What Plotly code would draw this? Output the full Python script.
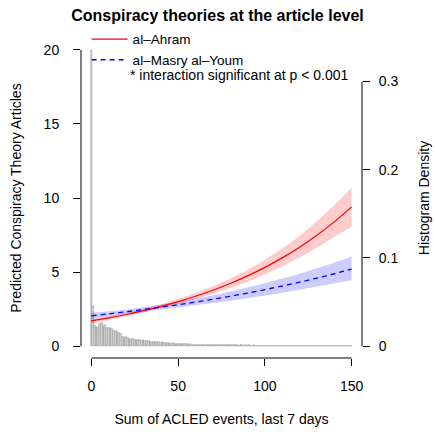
import plotly.graph_objects as go

# ---- data ----
x_grid = [0, 10, 20, 30, 40, 50, 60, 70, 80, 90, 100, 110, 120, 130, 140, 150]

ahram_fit = [1.70, 1.905, 2.135, 2.393, 2.682, 3.006, 3.369, 3.776, 4.232, 4.743,
             5.316, 5.958, 6.678, 7.485, 8.389, 9.40]
ahram_lo = [1.55, 1.77, 2.02, 2.27, 2.55, 2.84, 3.17, 3.53, 3.92, 4.36,
            4.84, 5.38, 5.98, 6.65, 7.38, 8.05]
ahram_hi = [1.86, 2.04, 2.26, 2.52, 2.82, 3.18, 3.58, 4.04, 4.57, 5.16,
            5.84, 6.60, 7.46, 8.43, 9.53, 10.70]

masry_fit = [2.05, 2.181, 2.321, 2.470, 2.628, 2.796, 2.975, 3.166, 3.368, 3.584,
             3.813, 4.057, 4.317, 4.593, 4.887, 5.20]
masry_lo = [1.87, 2.02, 2.18, 2.33, 2.47, 2.61, 2.76, 2.91, 3.07, 3.24,
            3.42, 3.61, 3.81, 4.02, 4.24, 4.45]
masry_hi = [2.25, 2.35, 2.47, 2.62, 2.79, 2.99, 3.21, 3.44, 3.69, 3.96,
            4.25, 4.56, 4.89, 5.25, 5.63, 6.05]

hist_bins = list(range(0, 151))
hist_density = [
    0.336, 0.045, 0.0227, 0.0216, 0.0205, 0.0250, 0.0260, 0.0216, 0.0239, 0.0205,
    0.0205, 0.0205, 0.0193, 0.0170, 0.0170, 0.0159, 0.0148, 0.0136,
    0.0105, 0.0095, 0.0100, 0.0090, 0.0085, 0.0080, 0.0080, 0.0070, 0.0075, 0.0068, 0.0065, 0.0060,
    0.0065, 0.0058, 0.0055, 0.0060, 0.0052, 0.0050, 0.0048, 0.0045, 0.0047, 0.0042,
    0.0040, 0.0042, 0.0038, 0.0035, 0.0036, 0.0033, 0.0030, 0.0032, 0.0028, 0.0027,
    0.0025, 0.0027, 0.0023, 0.0022, 0.0024, 0.0020, 0.0019, 0.0021, 0.0018, 0.0017,
    0.0018, 0.0016, 0.0015, 0.0017, 0.0014, 0.0015, 0.0013, 0.0014, 0.0012, 0.0013,
    0.0012, 0.0011, 0.0013, 0.0010, 0.0011, 0.0010, 0.0012, 0.0009, 0.0010, 0.0009,
    0.0010, 0.0008, 0.0009, 0.0008, 0.0010, 0.0007, 0.0008, 0.0009, 0.0007, 0.0008,
    0.0007, 0.0008, 0.0006, 0.0007, 0.0008, 0.0006, 0.0007, 0.0006, 0.0005, 0.0006,
    0.0006, 0.0005, 0.0006, 0.0005, 0.0006, 0.0004, 0.0005, 0.0005, 0.0004, 0.0005,
    0.0004, 0.0005, 0.0004, 0.0004, 0.0005, 0.0003, 0.0004, 0.0004, 0.0003, 0.0004,
    0.0003, 0.0004, 0.0003, 0.0003, 0.0004, 0.0003, 0.0003, 0.0002, 0.0003, 0.0003,
    0.0003, 0.0002, 0.0003, 0.0002, 0.0003, 0.0002, 0.0002, 0.0003, 0.0002, 0.0002,
    0.0002, 0.0002, 0.0002, 0.0001, 0.0002, 0.0002, 0.0001, 0.0002, 0.0001, 0.0002, 0.0002,
]

left_ticks = [0, 5, 10, 15, 20]
right_ticks = [0, 0.1, 0.2, 0.3]
right_tick_text = ["0", "0.1", "0.2", "0.3"]
x_ticks = [0, 50, 100, 150]

FONT = "Liberation Sans, Arial, sans-serif"

fig = go.Figure()

# histogram (main y axis = right side density)
fig.add_trace(go.Bar(
    x=hist_bins, y=hist_density, width=1,
    marker=dict(color="#d8d8d8", line=dict(color="#8f8f8f", width=0.5)),
    showlegend=False, hoverinfo="skip", xaxis="x", yaxis="y",
))

# confidence bands (overlay axis = left side)
fig.add_trace(go.Scatter(x=x_grid, y=ahram_hi, mode="lines", line=dict(width=0, shape="spline"),
                         showlegend=False, hoverinfo="skip", yaxis="y2"))
fig.add_trace(go.Scatter(x=x_grid, y=ahram_lo, mode="lines", line=dict(width=0, shape="spline"),
                         fill="tonexty", fillcolor="rgba(255,0,0,0.2)",
                         showlegend=False, hoverinfo="skip", yaxis="y2"))
fig.add_trace(go.Scatter(x=x_grid, y=masry_hi, mode="lines", line=dict(width=0, shape="spline"),
                         showlegend=False, hoverinfo="skip", yaxis="y2"))
fig.add_trace(go.Scatter(x=x_grid, y=masry_lo, mode="lines", line=dict(width=0, shape="spline"),
                         fill="tonexty", fillcolor="rgba(0,0,255,0.2)",
                         showlegend=False, hoverinfo="skip", yaxis="y2"))

# fitted lines
fig.add_trace(go.Scatter(x=x_grid, y=ahram_fit, mode="lines", name="al\u2013Ahram",
                         line=dict(color="red", width=1.2, shape="spline"), yaxis="y2"))
fig.add_trace(go.Scatter(x=x_grid, y=masry_fit, mode="lines", name="al\u2013Masry al\u2013Youm",
                         line=dict(color="blue", width=1.3, dash="5px,4px", shape="spline"), yaxis="y2"))

axis_common = dict(showgrid=False, zeroline=False, showline=False, ticks="outside",
                   ticklen=7, tickwidth=1, tickcolor="black", automargin=False,
                   tickfont=dict(family=FONT, size=14, color="black"))

fig.update_layout(
    width=435, height=432,
    margin=dict(l=80.6, r=72.6, t=38, b=74, autoexpand=False),
    paper_bgcolor="white", plot_bgcolor="white",
    font=dict(family=FONT, size=14, color="black"),
    title=dict(text="<b>Conspiracy theories at the article level</b>",
               x=0.5, xanchor="center", y=1 - 15 / 432, yanchor="middle",
               font=dict(family=FONT, size=16, color="black")),
    xaxis=dict(range=[-6, 156], tickvals=x_ticks, ticklabelstandoff=8,
               title=dict(text="Sum of ACLED events, last 7 days", standoff=21,
                          font=dict(family=FONT, size=14)),
               **axis_common),
    yaxis=dict(range=[-0.0134, 0.3494], side="right", tickvals=right_ticks,
               ticktext=right_tick_text, ticklabelstandoff=6,
               title=dict(text="Histogram Density", standoff=21,
                          font=dict(family=FONT, size=14)),
               **axis_common),
    yaxis2=dict(range=[-0.8, 20.8], overlaying="y", side="left", tickvals=left_ticks,
                ticklabelstandoff=11,
                title=dict(text="Predicted Conspiracy Theory Articles", standoff=18,
                           font=dict(family=FONT, size=14)),
                **axis_common),
    bargap=0,
    legend=dict(x=0.02, y=1.044, xanchor="left", yanchor="top", bgcolor="rgba(0,0,0,0)",
                font=dict(family=FONT, size=13.5), tracegroupgap=0, itemwidth=36,
                traceorder="normal"),
    showlegend=True,
)

# R-style axis lines spanning first to last tick
fig.add_shape(type="line", xref="x", yref="paper", x0=0, x1=150, y0=0, y1=0,
              line=dict(color="black", width=1))
fig.add_shape(type="line", xref="paper", yref="y2", x0=0, x1=0, y0=0, y1=20,
              line=dict(color="black", width=1))
fig.add_shape(type="line", xref="paper", yref="y", x0=1, x1=1, y0=0, y1=0.3,
              line=dict(color="black", width=1))

fig.add_annotation(text="* interaction significant at p < 0.001", xref="paper", yref="paper",
                   x=0.168, y=0.884, xanchor="left", yanchor="middle", showarrow=False,
                   font=dict(family=FONT, size=14, color="black"))

# remove the default 8px page margin so the figure fills the window exactly
fig.write_html("out.html",
               config={"displayModeBar": False},
               post_script="document.body.style.margin='0';document.body.style.overflow='hidden';")
